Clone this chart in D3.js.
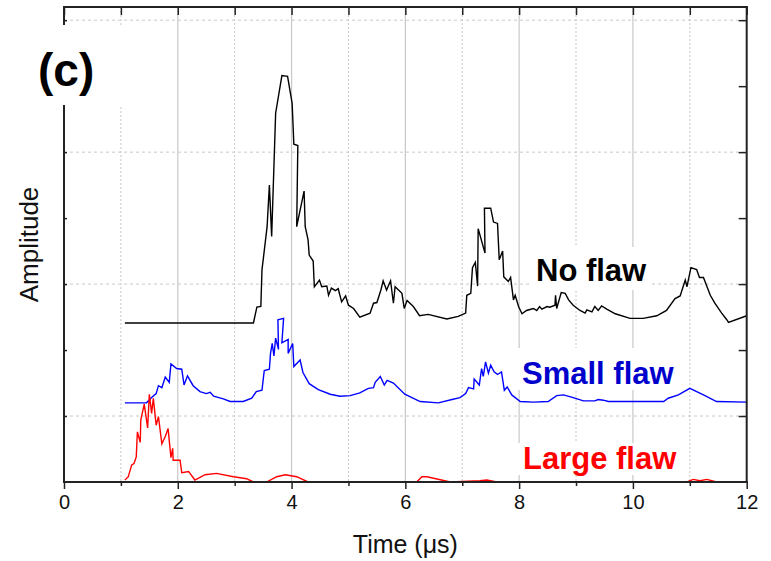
<!DOCTYPE html>
<html>
<head>
<meta charset="utf-8">
<script src="https://cdn.jsdelivr.net/npm/d3@7"></script>
<style>
  body { margin: 0; background: #fff; }
  text { font-family: "Liberation Sans", Arial, sans-serif; }
</style>
</head>
<body>
<div id="chart"></div>
<script>
var svgWidth = 771;
var svgHeight = 561;

// [time (us), amplitude]
var noFlaw = [
  [1.07,2.41],[3.33,2.41],[3.39,2.65],[3.46,2.66],[3.48,3.22],[3.50,3.36],[3.57,3.87],[3.61,4.50],
  [3.65,3.72],[3.72,5.59],[3.83,6.16],[3.93,6.15],[4.01,5.74],[4.04,5.12],[4.11,5.10],[4.09,3.87],
  [4.22,4.41],[4.24,3.87],[4.29,3.67],[4.31,3.44],[4.38,3.35],[4.40,2.96],[4.49,3.06],[4.53,2.96],
  [4.62,2.97],[4.65,2.83],[4.70,2.94],[4.77,2.90],[4.82,2.93],[4.88,2.73],[4.95,2.82],[5.00,2.68],
  [5.09,2.63],[5.20,2.50],[5.38,2.56],[5.44,2.71],[5.50,2.72],[5.57,2.91],[5.61,3.05],[5.67,2.91],
  [5.74,3.05],[5.79,2.71],[5.82,2.96],[5.94,2.86],[5.98,2.63],[6.03,2.75],[6.14,2.66],[6.25,2.52],
  [6.40,2.54],[6.73,2.47],[6.93,2.51],[7.06,2.56],[7.08,2.83],[7.15,2.86],[7.18,3.25],[7.23,3.33],
  [7.27,2.97],[7.28,3.84],[7.40,3.47],[7.39,4.15],[7.50,4.15],[7.55,3.94],[7.62,3.92],[7.65,3.37],
  [7.71,3.50],[7.73,3.11],[7.81,3.04],[7.85,3.10],[7.90,2.76],[7.93,2.83],[7.99,2.66],[8.05,2.55],
  [8.13,2.60],[8.25,2.63],[8.31,2.60],[8.36,2.66],[8.40,2.62],[8.49,2.66],[8.54,2.65],[8.63,2.68],
  [8.64,2.83],[8.66,2.63],[8.74,2.87],[8.81,2.86],[8.87,2.76],[8.95,2.68],[9.07,2.60],[9.16,2.56],
  [9.19,2.61],[9.28,2.58],[9.33,2.66],[9.39,2.60],[9.45,2.67],[9.54,2.62],[9.69,2.55],[9.95,2.48],
  [10.18,2.48],[10.42,2.52],[10.59,2.60],[10.74,2.78],[10.83,2.82],[10.92,3.06],[10.95,2.96],
  [11.02,3.25],[11.12,3.22],[11.17,3.10],[11.24,3.10],[11.36,2.83],[11.44,2.71],[11.56,2.56],
  [11.65,2.46],[11.68,2.42],[12.00,2.52]
];

var smallFlaw = [
  [1.07,1.20],[1.45,1.20],[1.54,1.28],[1.62,1.34],[1.66,1.46],[1.72,1.43],[1.78,1.59],[1.85,1.51],
  [1.88,1.79],[1.98,1.72],[2.07,1.71],[2.11,1.47],[2.17,1.61],[2.27,1.46],[2.39,1.37],[2.50,1.34],
  [2.57,1.36],[2.63,1.30],[2.80,1.26],[2.92,1.22],[3.15,1.22],[3.30,1.27],[3.38,1.37],[3.48,1.39],
  [3.52,1.69],[3.61,1.71],[3.63,1.95],[3.66,2.10],[3.69,1.91],[3.72,2.18],[3.77,2.01],[3.76,2.46],
  [3.86,2.48],[3.83,2.11],[3.94,2.16],[3.94,1.95],[4.02,2.10],[4.04,1.75],[4.15,1.85],[4.20,1.66],
  [4.31,1.49],[4.47,1.40],[4.68,1.33],[4.85,1.30],[5.03,1.31],[5.20,1.35],[5.35,1.42],[5.44,1.43],
  [5.47,1.51],[5.56,1.60],[5.63,1.47],[5.68,1.54],[5.79,1.50],[5.99,1.33],[6.26,1.22],[6.58,1.20],
  [6.82,1.25],[6.96,1.28],[7.06,1.34],[7.11,1.43],[7.20,1.41],[7.21,1.56],[7.30,1.47],[7.34,1.72],
  [7.37,1.60],[7.41,1.82],[7.46,1.65],[7.50,1.77],[7.56,1.67],[7.62,1.63],[7.69,1.67],[7.74,1.39],
  [7.79,1.44],[7.87,1.32],[8.02,1.22],[8.25,1.21],[8.51,1.22],[8.66,1.31],[8.78,1.32],[8.95,1.28],
  [9.13,1.23],[9.33,1.23],[9.39,1.25],[9.48,1.24],[9.57,1.22],[10.54,1.22],[10.62,1.27],[10.80,1.32],
  [11.00,1.42],[11.24,1.32],[11.47,1.22],[12.00,1.21]
];

var largeFlaw = [
  [1.07,0.03],[1.13,0.08],[1.19,0.26],[1.23,0.28],[1.27,0.38],[1.29,0.76],[1.34,0.60],[1.35,0.94],
  [1.41,1.18],[1.47,0.82],[1.50,1.33],[1.54,1.04],[1.57,1.27],[1.62,0.86],[1.66,0.99],[1.72,0.58],
  [1.78,0.69],[1.83,0.81],[1.86,0.54],[1.88,0.37],[1.91,0.51],[1.92,0.33],[2.04,0.33],[2.07,0.14],
  [2.19,0.16],[2.30,0.03],[2.48,0.11],[2.68,0.13],[2.98,0.08],[3.21,0.05],[3.33,0.00],[3.56,0.00],
  [3.74,0.08],[3.89,0.11],[4.09,0.08],[4.29,0.00],[6.20,0.00],[6.29,0.08],[6.38,0.08],[6.79,0.00],
  [7.31,0.02],[7.43,0.03],[7.61,0.00],[10.95,0.00],[11.06,0.04],[11.18,0.02],[11.30,0.04],
  [11.47,0.00],[12.00,0.00]
];

var xTicks = [0, 2, 4, 6, 8, 10, 12];
var xMinor = [1, 3, 5, 7, 9, 11];
var yTicks = [1, 2, 3, 4, 5, 6, 7];
var yGrid = [1, 3, 5, 7];

var margin = { top: 7, right: 24.3, bottom: 79, left: 64 };
var width = svgWidth - margin.left - margin.right;
var height = svgHeight - margin.top - margin.bottom;

var svg = d3.select("#chart")
  .append("svg")
  .attr("width", svgWidth)
  .attr("height", svgHeight);

var chartGroup = svg.append("g")
  .attr("transform", `translate(${margin.left}, ${margin.top})`);

var xScale = d3.scaleLinear().domain([0, 12]).range([0, width]);
var yScale = d3.scaleLinear().domain([0, 7.2]).range([height, 0]);

// grid
chartGroup.selectAll(".gx").data(xTicks.slice(1, -1)).enter()
  .append("line")
  .attr("x1", d => xScale(d)).attr("x2", d => xScale(d))
  .attr("y1", 0).attr("y2", height)
  .attr("stroke", "#c8c8c8").attr("stroke-width", 1.2);

chartGroup.selectAll(".gxm").data(xMinor).enter()
  .append("line")
  .attr("x1", d => xScale(d)).attr("x2", d => xScale(d))
  .attr("y1", 0).attr("y2", height)
  .attr("stroke", "#c8c8c8").attr("stroke-width", 1)
  .attr("stroke-dasharray", "2,2");

chartGroup.selectAll(".gy").data(yGrid).enter()
  .append("line")
  .attr("x1", 0).attr("x2", width)
  .attr("y1", d => yScale(d)).attr("y2", d => yScale(d))
  .attr("stroke", "#c8c8c8").attr("stroke-width", 1)
  .attr("stroke-dasharray", "3,3");

// white label boxes over the grid
var boxes = [[530, 247, 120, 43], [518, 348, 164, 42], [518, 443, 166, 32]];
svg.selectAll(".box").data(boxes).enter()
  .append("rect")
  .attr("x", d => d[0]).attr("y", d => d[1])
  .attr("width", d => d[2]).attr("height", d => d[3])
  .attr("fill", "#fff");

// curves
var line = d3.line()
  .x(d => xScale(d[0]))
  .y(d => yScale(d[1]));

var series = [
  { data: noFlaw, color: "#000000" },
  { data: smallFlaw, color: "#0000ff" },
  { data: largeFlaw, color: "#ff0000" }
];

chartGroup.selectAll(".curve").data(series).enter()
  .append("path")
  .attr("d", d => line(d.data))
  .attr("fill", "none")
  .attr("stroke", d => d.color)
  .attr("stroke-width", 1.4);

// axes
var bottomAxis = d3.axisBottom(xScale).tickValues(xTicks).tickSize(7).tickPadding(6)
  .tickFormat(d3.format("d"));
var bottomMinor = d3.axisBottom(xScale).tickValues(xMinor).tickSize(4).tickFormat("");
var topAxis = d3.axisTop(xScale).tickValues(xTicks.concat(xMinor)).tickSize(-8).tickFormat("");
var leftAxis = d3.axisLeft(yScale).tickValues(yTicks).tickSize(-3).tickFormat("");
var rightAxis = d3.axisRight(yScale).tickValues(yTicks).tickSize(-8).tickFormat("");

var gb = chartGroup.append("g").attr("transform", `translate(0, ${height})`).call(bottomAxis);
chartGroup.append("g").attr("transform", `translate(0, ${height})`).call(bottomMinor);
chartGroup.append("g").call(topAxis);
chartGroup.append("g").call(leftAxis);
chartGroup.append("g").attr("transform", `translate(${width}, 0)`).call(rightAxis);

chartGroup.selectAll(".domain").remove();
chartGroup.selectAll(".tick line").attr("stroke", "#222").attr("stroke-width", 1.5);

gb.selectAll("text")
  .attr("font-size", "20px")
  .attr("fill", "#111")
  .style("font-family", "'Liberation Sans', Arial, sans-serif");

// frame
var frame = [[0, 0, width, 0], [0, height, width, height], [0, 0, 0, height], [width, 0, width, height]];
chartGroup.selectAll(".frame").data(frame).enter()
  .append("line")
  .attr("x1", d => d[0]).attr("y1", d => d[1])
  .attr("x2", d => d[2]).attr("y2", d => d[3])
  .attr("stroke", "#222").attr("stroke-width", 2)
  .attr("stroke-linecap", "square");

// axis titles
chartGroup.append("text")
  .attr("transform", `translate(${width / 2}, ${height + 71})`)
  .attr("text-anchor", "middle")
  .attr("font-size", "25px")
  .attr("fill", "#111")
  .text("Time (\u03bcs)");

svg.append("text")
  .attr("transform", `translate(38, ${margin.top + height / 2}) rotate(-90)`)
  .attr("text-anchor", "middle")
  .attr("font-size", "26px")
  .attr("fill", "#111")
  .text("Amplitude");

// panel label
svg.append("rect")
  .attr("x", 28).attr("y", 25).attr("width", 96).attr("height", 80)
  .attr("fill", "#fff");
svg.append("text")
  .attr("x", 38).attr("y", 86)
  .attr("font-size", "46px")
  .attr("font-weight", "bold")
  .attr("fill", "#000")
  .text("(c)");

// curve labels
var labels = [
  { text: "No flaw", x: 536, y: 281, color: "#000000" },
  { text: "Small flaw", x: 522, y: 384, color: "#0000cc" },
  { text: "Large flaw", x: 523, y: 469, color: "#ff0000" }
];
svg.selectAll(".lbl").data(labels).enter()
  .append("text")
  .attr("x", d => d.x).attr("y", d => d.y)
  .attr("font-size", "31px")
  .attr("font-weight", "bold")
  .attr("fill", d => d.color)
  .text(d => d.text);
</script>
</body>
</html>
